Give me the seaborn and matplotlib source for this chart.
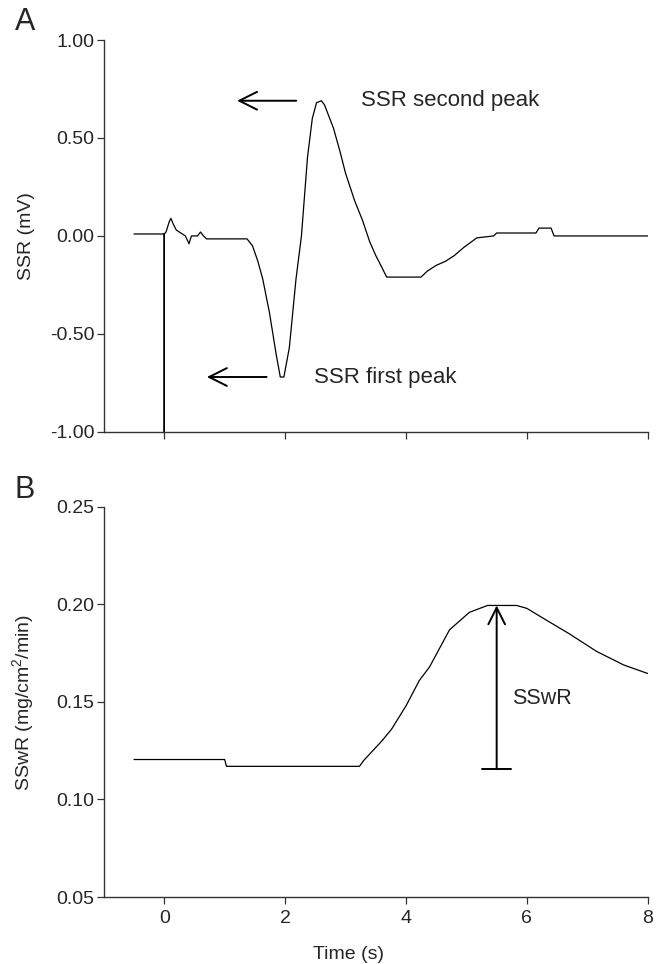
import numpy as np
import pandas as pd
import matplotlib
matplotlib.use('Agg')
from matplotlib import pyplot as plt
import seaborn as sns

# Panel A: skin sympathetic response trace (time in s, mV)
ssr_time = [-0.5, -0.02, 0.0, 0.0, 0.0, 0.03, 0.08, 0.11, 0.15, 0.2, 0.25, 0.35, 0.41, 0.45,
            0.55, 0.6, 0.65, 0.7, 1.0, 1.37, 1.46, 1.55, 1.63, 1.74, 1.85, 1.92, 1.98, 2.07,
            2.18, 2.27, 2.37, 2.45, 2.52, 2.6, 2.65, 2.7, 2.8, 2.9, 3.0, 3.15, 3.28, 3.4,
            3.5, 3.6, 3.68, 4.25, 4.35, 4.5, 4.65, 4.8, 4.95, 5.17, 5.45, 5.5, 6.15, 6.2,
            6.4, 6.45, 7.0, 7.5, 8.0]
ssr_mv = [0.01, 0.01, 0.01, -1.0, 0.01, 0.02, 0.07, 0.09, 0.06, 0.03, 0.02, 0.0, -0.04, 0.0,
          0.0, 0.02, 0.0, -0.015, -0.015, -0.015, -0.05, -0.13, -0.22, -0.39, -0.6, -0.72,
          -0.72, -0.57, -0.22, 0.0, 0.4, 0.6, 0.68, 0.69, 0.67, 0.63, 0.55, 0.44, 0.32, 0.18,
          0.08, -0.03, -0.1, -0.16, -0.21, -0.21, -0.18, -0.15, -0.13, -0.1, -0.06, -0.01,
          0.0, 0.015, 0.015, 0.04, 0.04, 0.0, 0.0, 0.0, 0.0]

# Panel B: sudomotor sweat rate (mg/cm2/min)
sswr_time = [-0.5, 1.0, 1.03, 3.23, 3.3, 3.45, 3.6, 3.76, 4.0, 4.22, 4.39, 4.72, 5.05,
             5.35, 5.83, 6.0, 6.32, 6.7, 7.15, 7.6, 8.0]
sswr_val = [0.1205, 0.1205, 0.117, 0.117, 0.12, 0.125, 0.13, 0.136, 0.148, 0.161, 0.168,
            0.187, 0.196, 0.1995, 0.1995, 0.198, 0.192, 0.185, 0.176, 0.169, 0.1646]

# annotations
second_peak_arrow = [(2.23, 0.69), (1.16, 0.69)]
first_peak_arrow = [(1.74, -0.72), (0.66, -0.72)]
sswr_arrow = [(5.5, 0.1155), (5.5, 0.1995)]

sns.set_style('ticks')
plt.rcParams['font.family'] = ['Liberation Sans', 'DejaVu Sans']
plt.rcParams['mathtext.fontset'] = 'custom'
plt.rcParams['mathtext.rm'] = 'Liberation Sans'

dfA = pd.DataFrame({'t': ssr_time, 'v': ssr_mv})
dfB = pd.DataFrame({'t': sswr_time, 'v': sswr_val})

fig = plt.figure(figsize=(6.61, 9.64), dpi=100)
ax1 = fig.add_axes([0.157, 0.552, 0.823, 0.4065])
ax2 = fig.add_axes([0.157, 0.0695, 0.823, 0.4046])

sns.lineplot(data=dfA, x='t', y='v', ax=ax1, color='black', lw=0.9, sort=False,
             estimator=None)
sns.lineplot(data=dfB, x='t', y='v', ax=ax2, color='black', lw=0.9, sort=False,
             estimator=None)

for ax in (ax1, ax2):
    sns.despine(ax=ax)
    ax.set_xlim(-1, 8)
    ax.set_xticks([0, 2, 4, 6, 8])
    ax.tick_params(direction='out', length=5, width=0.9, color='#333333',
                   labelsize=14, pad=1.5)
    ax.tick_params(axis='x', pad=4)
    for s in ('left', 'bottom'):
        ax.spines[s].set_linewidth(1.0)
        ax.spines[s].set_color('#333333')

ax1.set_ylim(-1, 1)
ax1.set_yticks([-1, -0.5, 0, 0.5, 1])
ax1.set_yticklabels(['-1.00', '-0.50', '0.00', '0.50', '1.00'])
ax1.set_xticklabels([])
ax1.set_xlabel('')
ax1.set_ylabel('SSR (mV)', fontsize=14)
ax1.yaxis.set_label_coords(-0.127, 0.5)

ax2.set_ylim(0.05, 0.25)
ax2.set_yticks([0.05, 0.10, 0.15, 0.20, 0.25])
ax2.set_yticklabels(['0.05', '0.10', '0.15', '0.20', '0.25'])
ax2.set_ylabel('SSwR (mg/cm$^2$/min)', fontsize=14)
ax2.yaxis.set_label_coords(-0.122, 0.5)
ax2.set_xlabel('Time (s)', fontsize=14)
ax2.xaxis.set_label_coords(0.449, -0.125)

arrow_kw = dict(arrowstyle='->', color='black', lw=1.4, mutation_scale=32)
ax1.annotate('', xy=second_peak_arrow[1], xytext=second_peak_arrow[0], arrowprops=arrow_kw)
ax1.annotate('', xy=first_peak_arrow[1], xytext=first_peak_arrow[0], arrowprops=arrow_kw)
ax1.text(3.26, 0.69, 'SSR second peak', fontsize=16, va='center', ha='left')
ax1.text(2.48, -0.72, 'SSR first peak', fontsize=16, va='center', ha='left')

ax2.annotate('', xy=sswr_arrow[1], xytext=sswr_arrow[0],
             arrowprops=dict(arrowstyle=']->, widthA=0.35, lengthA=0', color='black',
                             lw=1.4, mutation_scale=30, shrinkA=0, shrinkB=0))
ax2.text(5.76, 0.152, 'SSwR', fontsize=15.5, va='center', ha='left')

fig.text(0.022, 0.977, 'A', fontsize=22, va='center', ha='left')
fig.text(0.022, 0.492, 'B', fontsize=22, va='center', ha='left')

fig.savefig('out.png', dpi=100)
